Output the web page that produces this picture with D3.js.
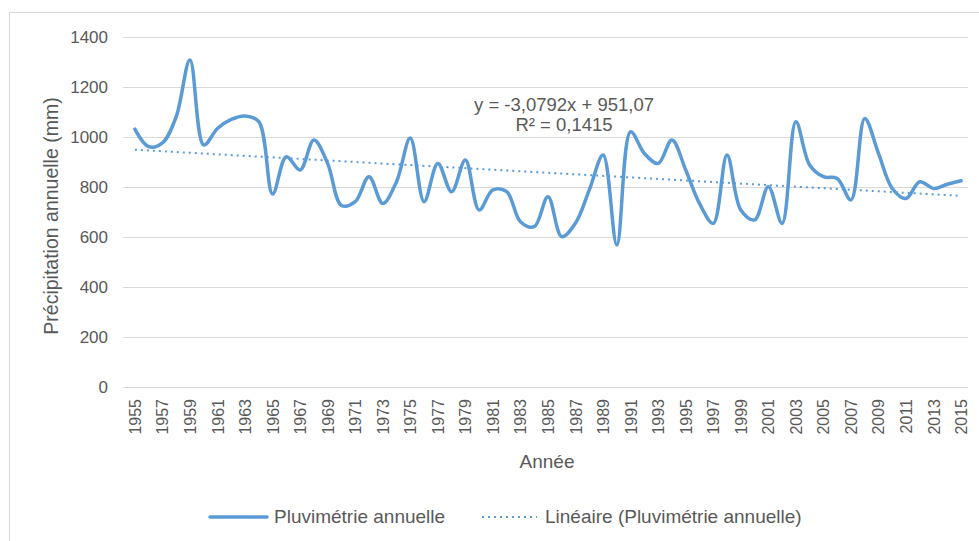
<!DOCTYPE html>
<html>
<head>
<meta charset="utf-8">
<script src="https://cdn.jsdelivr.net/npm/d3@7"></script>
<style>
  body { margin: 0; background: #fff; }
  svg text { fill: #595959; }
</style>
</head>
<body>
<div id="chart"></div>
<script>
// annual rainfall
var years = d3.range(1955, 2016);
var rainfall = [
  1030, 960, 975, 1080, 1307, 967, 1033, 1069, 1083, 1060,
  771, 920, 867, 987, 893, 725, 740, 840, 733, 820,
  995, 740, 893, 780, 907, 707, 787, 780, 660, 640,
  760, 600, 655, 787, 927, 567, 1020, 933, 893, 987,
  867, 733, 653, 927, 707, 667, 800, 653, 1060, 887,
  840, 833, 747, 1073, 933, 793, 753, 820, 793, 810,
  824
];
var yTicks = [0, 200, 400, 600, 800, 1000, 1200, 1400];
// trend line as printed on the chart
var trendSlope = -3.0792, trendIntercept = 951.07;
var trendLabel = ["y = -3,0792x + 951,07", "R² = 0,1415"];
var legendLabels = ["Pluvimétrie annuelle", "Linéaire (Pluvimétrie annuelle)"];

var width = 979, height = 541;
var blue = "#5b9bd5";
// no serif font in the sandbox, liberation sans is the closest
var font = "'Liberation Sans', Arial, sans-serif";

var svg = d3.select("#chart").append("svg")
    .attr("width", width)
    .attr("height", height)
    .style("font-family", font);

// chart frame
svg.append("rect")
    .attr("x", 9.5).attr("y", 12.5)
    .attr("width", 990).attr("height", 560)
    .attr("fill", "#fff")
    .attr("stroke", "#d9d9d9");

var x = d3.scalePoint()
    .domain(years)
    .range([128, 968])
    .padding(0.5);

var y = d3.scaleLinear()
    .domain([0, 1400])
    .range([386.7, 36.7]);

// gridlines
svg.append("g").selectAll("line")
    .data(yTicks)
    .enter().append("line")
    .attr("x1", 123).attr("x2", 968)
    .attr("y1", d => Math.round(y(d)) + 0.5)
    .attr("y2", d => Math.round(y(d)) + 0.5)
    .attr("stroke", "#d9d9d9")
    .attr("stroke-width", 1);

// y tick labels
svg.append("g").selectAll("text")
    .data(yTicks)
    .enter().append("text")
    .attr("x", 108)
    .attr("y", d => y(d) + 6)
    .attr("text-anchor", "end")
    .attr("font-size", 17)
    .text(d => d);

// x tick labels, every other year
svg.append("g").selectAll("text")
    .data(years.filter((d, i) => i % 2 === 0))
    .enter().append("text")
    .attr("transform", d => `translate(${x(d) + 6},399) rotate(-90)`)
    .attr("text-anchor", "end")
    .attr("font-size", 16)
    .text(d => d);

// axis titles
svg.append("text")
    .attr("transform", "translate(58,216) rotate(-90)")
    .attr("text-anchor", "middle")
    .attr("font-size", 19.5)
    .text("Précipitation annuelle (mm)");

svg.append("text")
    .attr("x", 547).attr("y", 468)
    .attr("text-anchor", "middle")
    .attr("font-size", 19)
    .text("Année");

// trend line
var trend = years.map((d, i) => ({ year: d, value: trendSlope * (i + 1) + trendIntercept }));
svg.append("path")
    .datum([trend[0], trend[trend.length - 1]])
    .attr("fill", "none")
    .attr("stroke", blue)
    .attr("stroke-width", 2)
    .attr("stroke-dasharray", "2,4")
    .attr("d", d3.line().x(d => x(d.year)).y(d => y(d.value)));

// data line, smoothed like excel
var pts = years.map((d, i) => ({ year: d, value: rainfall[i] }));
svg.append("path")
    .datum(pts)
    .attr("fill", "none")
    .attr("stroke", blue)
    .attr("stroke-width", 3.5)
    .attr("stroke-linejoin", "round")
    .attr("stroke-linecap", "round")
    .attr("d", d3.line().curve(d3.curveCatmullRom.alpha(0.5)).x(d => x(d.year)).y(d => y(d.value)));

// equation label
svg.append("g").selectAll("text")
    .data(trendLabel)
    .enter().append("text")
    .attr("x", 564)
    .attr("y", (d, i) => 111 + i * 20)
    .attr("text-anchor", "middle")
    .attr("font-size", 18.5)
    .text(d => d);

// legend
var lg = svg.append("g");
lg.append("line")
    .attr("x1", 210).attr("x2", 267)
    .attr("y1", 517).attr("y2", 517)
    .attr("stroke", blue).attr("stroke-width", 3.5)
    .attr("stroke-linecap", "round");
lg.append("text")
    .attr("x", 274).attr("y", 523)
    .attr("font-size", 19)
    .text(legendLabels[0]);
lg.append("line")
    .attr("x1", 482).attr("x2", 537)
    .attr("y1", 517).attr("y2", 517)
    .attr("stroke", blue).attr("stroke-width", 2)
    .attr("stroke-dasharray", "2,4");
lg.append("text")
    .attr("x", 545).attr("y", 523)
    .attr("font-size", 19)
    .text(legendLabels[1]);
</script>
</body>
</html>
